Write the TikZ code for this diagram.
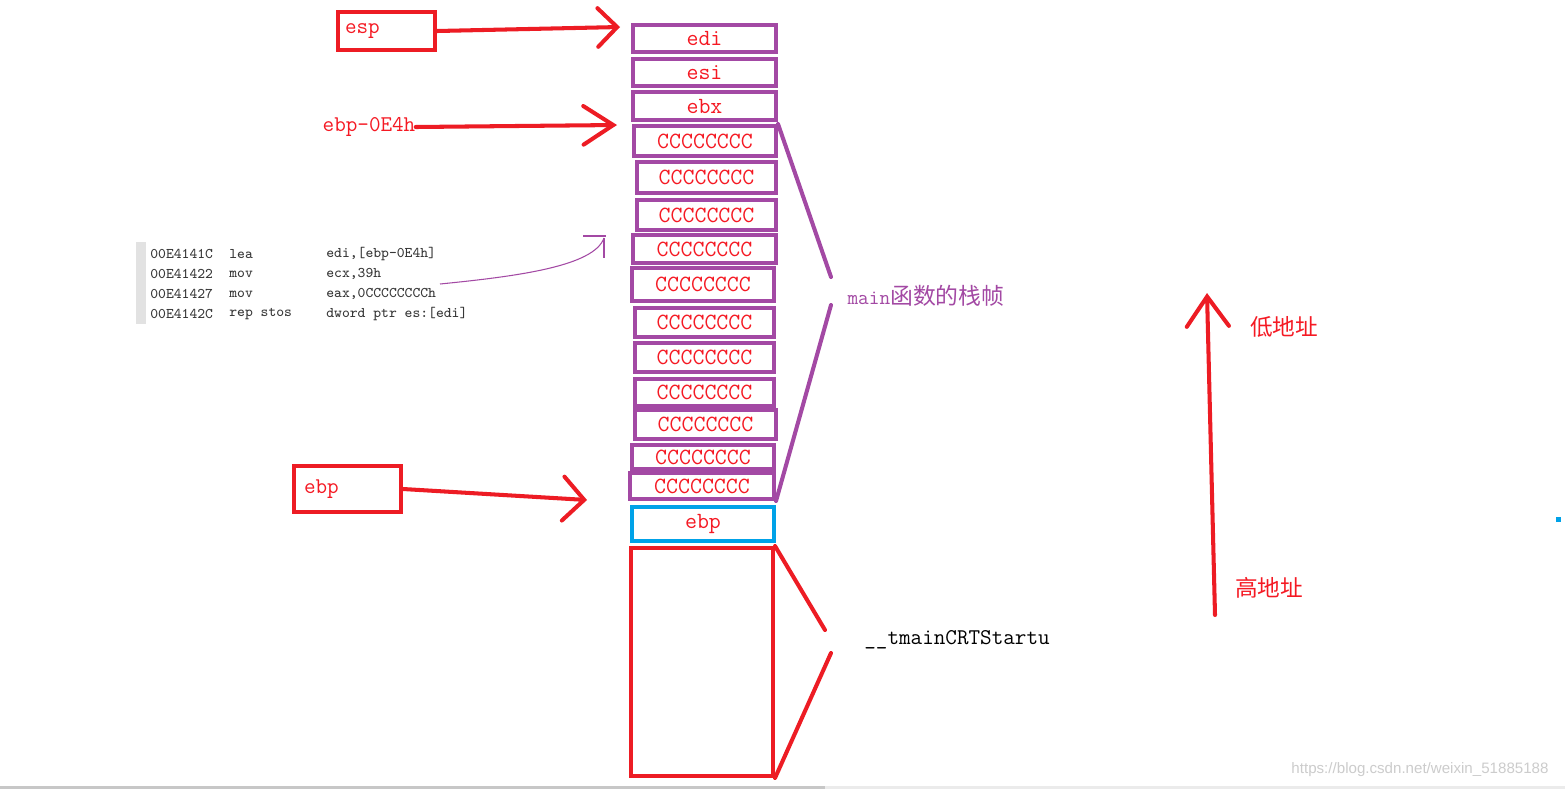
\documentclass[tikz,border=0pt]{standalone}
\usepackage{fontspec}
\newfontfamily\boxfont{Latin Modern Mono}
\newfontfamily\cjkfont{Noto Sans CJK SC}
\newfontfamily\markfont{Liberation Sans}
\usepackage{tikz}
\usetikzlibrary{arrows.meta}
\definecolor{violetpaint}{RGB}{163,73,164}
\definecolor{redpaint}{RGB}{237,28,36}
\definecolor{redtext}{RGB}{245,25,35}
\definecolor{bluepaint}{RGB}{0,162,232}
\definecolor{asmgray}{RGB}{55,55,55}
\definecolor{bargray}{RGB}{226,226,226}

\begin{document}
\begin{tikzpicture}[x=0.02cm,y=-0.02cm,
		slot/.style={draw=violetpaint,line width=2.3pt,minimum width=2.86cm,inner sep=0pt,
			text=redtext,font=\fontsize{13.2}{14}\boxfont},
		redbox/.style={draw=redpaint,line width=2.3pt,inner ysep=0pt,align=left,
			text=redtext,font=\fontsize{12.8}{13}\boxfont},
		arr/.style={redpaint,line width=2.3pt,line cap=round,
			-{Straight Barb[length=11pt,width=22pt,line cap=round]}},
		brace/.style={line width=2.3pt,line cap=round},
		asm/.style={anchor=west,inner sep=0pt,text=asmgray,font=\fontsize{8.4}{9}\boxfont},
		lbl/.style={text=redtext,font=\fontsize{12.9}{14}\cjkfont}]
	\useasboundingbox (0,0) rectangle (1565,789);
	\fill[white] (0,0) rectangle (1565,789);
	\fill[black!22] (0,786) rectangle (825,789);
	\fill[black!8] (825,786) rectangle (1565,789);
	
	% stack of main
	\node[slot,minimum height=0.54cm] (edi) at (704.5,38.5){edi};
	\node[slot,minimum height=0.54cm] (esi) at (704.5,72.5){esi};
	\node[slot,minimum height=0.56cm] (ebx) at (704.5,106){ebx};
	\node[slot,minimum height=0.60cm,minimum width=2.84cm] (c1) at (705,141){CCCCCCCC};
	\node[slot,minimum height=0.62cm,minimum width=2.78cm] (c2) at (706.5,177.5){CCCCCCCC};
	\node[slot,minimum height=0.60cm,minimum width=2.78cm] (c3) at (706.5,215){CCCCCCCC};
	\node[slot,minimum height=0.56cm] (c4) at (704.5,249){CCCCCCCC};
	\node[slot,minimum height=0.66cm,minimum width=2.84cm] (c5) at (703,284.5){CCCCCCCC};
	\node[slot,minimum height=0.58cm,minimum width=2.78cm] (c6) at (704.5,322.5){CCCCCCCC};
	\node[slot,minimum height=0.58cm,minimum width=2.78cm] (c7) at (704.5,357.5){CCCCCCCC};
	\node[slot,minimum height=0.54cm,minimum width=2.78cm] (c8) at (704.5,392.5){CCCCCCCC};
	\node[slot,minimum height=0.58cm,minimum width=2.82cm] (c9) at (705.5,424.5){CCCCCCCC};
	\node[slot,minimum height=0.48cm,minimum width=2.84cm] (c10) at (703,457){CCCCCCCC};
	\node[slot,minimum height=0.52cm,minimum width=2.88cm] (c11) at (702,486){CCCCCCCC};
	\draw[violetpaint,line width=0.5pt] (642,261) -- (752,261);
	
	\node[slot,draw=bluepaint,minimum height=0.68cm,minimum width=2.84cm] (oldebp) at (703,524){ebp};
	\node[slot,draw=redpaint,minimum height=4.56cm,minimum width=2.84cm] (crt) at (702,662){};
	
	% pointers
	\node[redbox,text width=1.66cm,inner xsep=0.14cm,minimum height=0.76cm] (esp) at (386.5,31){esp};
	\coordinate (espTip) at (620,27);
	\draw[arr] (esp.east) -- (espTip);
	
	\node[text=redtext,font=\fontsize{12.8}{13}\boxfont,inner sep=0pt] (edistart) at (369,127){ebp-0E4h};
	\coordinate (ediTip) at (617,125);
	\draw[arr,-{Straight Barb[length=17pt,width=22pt,line cap=round]}] (edistart.east) -- (ediTip);
	
	\node[redbox,text width=1.74cm,inner xsep=0.2cm,minimum height=0.92cm] (ebp) at (347.5,489){ebp};
	\coordinate (ebpTip) at (587,500);
	\draw[arr,-{Straight Barb[length=12pt,width=25pt,line cap=round]}] (ebp.east) -- (ebpTip);
	
	% asm listing
	\fill[bargray] (136,242) rectangle (146,324);
	\node[asm] (a1) at (150,254){00E4141C};
	\node[asm] (o1) at (229,254){lea};
	\node[asm] (p1) at (326,254){edi,[ebp-0E4h]};
	\node[asm] (a2) at (150,274){00E41422};
	\node[asm] (o2) at (229,274){mov};
	\node[asm] (p2) at (326,274){ecx,39h};
	\node[asm] (a3) at (150,294){00E41427};
	\node[asm] (o3) at (229,294){mov};
	\node[asm] (p3) at (326,294){eax,0CCCCCCCCh};
	\node[asm] (a4) at (150,314){00E4142C};
	\node[asm] (o4) at (229,314){rep stos};
	\node[asm] (p4) at (326,314){dword ptr es:[edi]};
	\coordinate (curveStart) at (440,284);
	\coordinate (curveEnd) at (604,238);
	\draw[violetpaint,line width=0.6pt] (curveStart) .. controls (520,276) and (594,266) .. (curveEnd);
	\draw[violetpaint,line width=0.6pt] (583,236) -- (606,236) (curveEnd) -- (604,258);
	
	% frame of main
	\coordinate (mainTop) at (831,277);
	\coordinate (mainBot) at (831,305);
	\draw[brace,violetpaint] (c1.north east) -- (mainTop);
	\draw[brace,violetpaint] (mainBot) -- (c11.south east);
	\node[text=violetpaint,inner sep=0pt] (mainlbl) at (926,296){{\fontsize{11.8}{12}\boxfont main}{\fontsize{13}{14}\cjkfont 函数的栈帧}};
	
	% frame of the caller
	\coordinate (crtTop) at (825,630);
	\coordinate (crtBot) at (831,653);
	\draw[brace,redpaint] (crt.north east) -- (crtTop);
	\draw[brace,redpaint] (crtBot) -- (crt.south east);
	\node[font=\fontsize{12.8}{13}\boxfont,inner sep=0pt] (crtlbl) at (957,640){\_\_tmainCRTStartu};
	
	% growth direction
	\coordinate (highEnd) at (1215,615);
	\coordinate (lowEnd) at (1207,293);
	\draw[arr,-{Straight Barb[length=17pt,width=24pt,line cap=round]}] (highEnd) -- (lowEnd);
	\node[lbl] (low) at (1284,327){低地址};
	\node[lbl] (high) at (1269,588){高地址};
	
	\fill[bluepaint] (1556,517) rectangle (1561,522);
	\node[text=black!20,font=\fontsize{8.6}{10}\markfont,inner sep=0pt] (mark) at (1420,770){https://blog.csdn.net/weixin\_51885188};
\end{tikzpicture}
\end{document}
